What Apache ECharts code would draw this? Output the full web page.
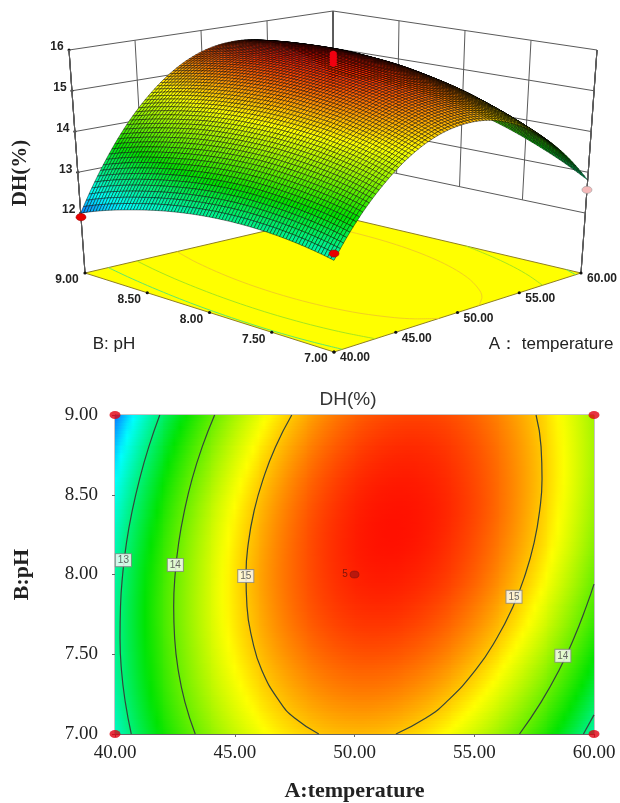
<!DOCTYPE html>
<html><head><meta charset="utf-8">
<style>html,body{margin:0;padding:0;background:#fff}#c{width:620px;height:803px}</style>
<script src="https://cdn.jsdelivr.net/npm/echarts@6/dist/echarts.min.js"></script>
</head><body><div id="c"></div>
<script>
// ---------- values ----------
const tempLevels = [40,42,44,46,48,50,52,54,56,58,60];
const phLevels = [7,7.2,7.4,7.6,7.8,8,8.2,8.4,8.6,8.8,9];
const dhTable = [
 [12.69,13.54,14.19,14.67,14.96,15.06,14.98,14.71,14.26,13.63,12.81],
 [12.80,13.67,14.35,14.84,15.15,15.28,15.22,14.97,14.54,13.93,13.13],
 [12.87,13.75,14.46,14.97,15.30,15.45,15.41,15.19,14.78,14.19,13.41],
 [12.90,13.80,14.53,15.07,15.42,15.59,15.57,15.37,14.99,14.42,13.66],
 [12.89,13.82,14.56,15.12,15.50,15.69,15.69,15.51,15.15,14.60,13.87],
 [12.84,13.79,14.55,15.14,15.53,15.75,15.77,15.62,15.28,14.75,14.04],
 [12.75,13.72,14.51,15.11,15.53,15.77,15.82,15.68,15.36,14.86,14.17],
 [12.62,13.61,14.43,15.05,15.49,15.75,15.82,15.71,15.41,14.92,14.26],
 [12.45,13.47,14.30,14.95,15.41,15.69,15.78,15.69,15.41,14.95,14.31],
 [12.25,13.29,14.14,14.81,15.29,15.59,15.71,15.64,15.38,14.94,14.32],
 [12.00,13.06,13.94,14.63,15.14,15.46,15.59,15.55,15.31,14.90,14.29]
];
const tempTicks = [40,45,50,55,60];
const phTicks = [7,7.5,8,8.5,9];
const dhTicks = [12,13,14,15,16];
const contour13Left = [[41.87,9],[41.41,8.8],[41.03,8.6],[40.72,8.4],[40.48,8.2],[40.32,8],[40.23,7.8],[40.21,7.6],[40.27,7.4],[40.43,7.2],[40.68,7]];
const contour13Right = [[60,7.12],[59.56,7]];
const contour14Left = [[44.16,9],[43.64,8.8],[43.22,8.6],[42.90,8.4],[42.66,8.2],[42.51,8],[42.45,7.8],[42.49,7.6],[42.64,7.4],[42.92,7.2],[43.35,7]];
const contour14Right = [[60,7.94],[59.68,7.8],[59.16,7.6],[58.54,7.4],[57.79,7.2],[56.89,7]];
const contour15 = [[47.38,9],[46.70,8.8],[46.19,8.6],[45.81,8.4],[45.57,8.2],[45.47,8],[45.51,7.8],[45.72,7.6],[46.13,7.4],[46.89,7.2],[47.5,7.1],[48.51,7]];
const contour15Right = [[57.58,9],[57.79,8.8],[57.83,8.6],[57.73,8.4],[57.50,8.2],[57.13,8],[56.62,7.8],[55.94,7.6],[55.05,7.4],[53.83,7.2],[52.98,7.1],[51.73,7]];
const contourLabels = [[40.35,8.09,'13'],[42.52,8.06,'14'],[45.46,7.99,'15'],[56.66,7.86,'15'],[58.7,7.49,'14']];
const designTemp = [60,40,40,60];
const designPh = [9,9,7,7];
const designDH = [14.3,11.9,12.85,12.57];
const centerDH = [15.85,15.92,15.98,16.04,16.1];

// ---------- scene geometry ----------
const floorF=[334,352], floorL=[85,273], floorB=[334,215], floorR=[581,273];
const topF=[334,120], topL=[69,50], topB=[333,11], topR=[597,50];
const zFloor=10.53, zTop=16;
const colorStops=[[12,[8,120,255]],[12.45,[0,255,255]],[13.5,[0,228,0]],[14.75,[255,255,0]],[15.9,[255,0,0]]];
const serif='"Liberation Serif"', sans='"Liberation Sans"';

function bil(c0,c1,c2,c3,u,v,k){return (1-u)*(1-v)*c0[k]+u*(1-v)*c1[k]+(1-u)*v*c2[k]+u*v*c3[k];}
function project(A,B,z){
  const u=(A-40)/20,v=(B-7)/2,t=(z-zFloor)/(zTop-zFloor);
  return [0,1].map(k=>{
    const f=bil(floorF,floorR,floorL,floorB,u,v,k), p=bil(topF,topR,topL,topB,u,v,k);
    return f+(p-f)*t;
  });
}
function spline(vals,x){
  const n=vals.length;
  const i=Math.max(0,Math.min(n-2,Math.floor(x))), t=x-i;
  const g=k=>k<0?3*vals[0]-3*vals[1]+vals[2]:k>=n?3*vals[n-1]-3*vals[n-2]+vals[n-3]:vals[k];
  const p0=g(i-1),p1=g(i),p2=g(i+1),p3=g(i+2);
  return .5*(2*p1+(p2-p0)*t+(2*p0-5*p1+4*p2-p3)*t*t+(3*p1-p0-3*p2+p3)*t*t*t);
}
function dhAt(A,B){
  const x=(A-40)/2,y=(B-7)/.2;
  return spline(dhTable.map(r=>spline(r,x)),y);
}
function dhColor(z){
  const s=colorStops;
  if(z<=s[0][0])return 'rgb('+s[0][1]+')';
  for(let i=1;i<s.length;i++){
    if(z<=s[i][0]){
      const t=(z-s[i-1][0])/(s[i][0]-s[i-1][0]);
      return 'rgb('+s[i][1].map((c,k)=>Math.round(s[i-1][1][k]+(c-s[i-1][1][k])*t)).join(',')+')';
    }
  }
  return 'rgb('+s[s.length-1][1]+')';
}
// cells: lower-left node of every table cell, ordered back to front
const cellData=[];
for(let j=phLevels.length-2;j>=0;j--)for(let i=tempLevels.length-2;i>=0;i--)
  cellData.push([tempLevels[i],phLevels[j],dhTable[j][i]]);

const wallStroke={stroke:'#5a5a5a',lineWidth:1,fill:null};
function seg(a,b,style){return {type:'line',shape:{x1:a[0],y1:a[1],x2:b[0],y2:b[1]},style:style};}
function txt(x,y,s,font,extra){return Object.assign({type:'text',x:x,y:y,style:{text:s,font:font,fill:'#222',textAlign:'center',textVerticalAlign:'middle'}},extra||{});}
function dot(p,r,fill){return {type:'circle',shape:{cx:p[0],cy:p[1],r:r},style:{fill:fill}};}
const tickFont='bold 12px '+sans;

function sceneSeries(name,data,render,z){
  return {type:'custom',name:name,coordinateSystem:'none',data:data,silent:true,animation:false,z:z,renderItem:render};
}
function polyStyle(col,w){return {stroke:col,lineWidth:w,fill:null,lineJoin:'round'};}
function floorLine(pts,col){
  return {type:'polyline',shape:{points:pts.map(p=>project(p[0],p[1],zFloor)),smooth:0.3},style:polyStyle(col,1)};
}

const series=[
 sceneSeries('dhGrid',dhTicks,(p,api)=>{
   const z=api.value(0);
   const a=project(40,9,z),b=project(60,9,z),c=project(60,7,z);
   return {type:'group',children:[seg(a,b,wallStroke),seg(b,c,wallStroke),
     dot(a,1.5,'#111'),
     txt(a[0]-12,a[1]-3,String(z),'bold 12px '+sans)]};
 },2),
 sceneSeries('tempGrid',tempTicks,(p,api)=>{
   const A=api.value(0);
   const tick=project(A,7,zFloor);
   return {type:'group',children:[seg(project(A,9,12),project(A,9,16),wallStroke),
     seg(project(60,9,12),project(60,9,16),wallStroke),
     txt(tick[0]+21,tick[1]+6,A.toFixed(2),tickFont)]};
 },2),
 sceneSeries('phGrid',phTicks,(p,api)=>{
   const B=api.value(0);
   const tick=project(40,B,zFloor);
   return {type:'group',children:[seg(project(60,B,12),project(60,B,16),wallStroke),
     seg(project(40,9,zFloor),project(40,9,16),wallStroke),
     seg(project(60,7,zFloor),project(60,7,16),wallStroke),
     txt(tick[0]-18,tick[1]+7,B.toFixed(2),tickFont)]};
 },2),
 sceneSeries('floor',[0],()=>({type:'group',children:[
   {type:'polygon',shape:{points:[project(40,7,zFloor),project(60,7,zFloor),project(60,9,zFloor),project(40,9,zFloor)]},
    style:{fill:'#ffff00',stroke:'#8f7f22',lineWidth:1}},
   floorLine(contour13Left,'#5fe86a'),floorLine(contour13Right,'#5fe86a'),
   floorLine(contour14Left,'#a6e61e'),floorLine(contour14Right,'#a6e61e'),
   floorLine(contour15,'#f2cf22'),floorLine(contour15Right,'#f2cf22')
 ]}),3),
 sceneSeries('floorTicks',tempTicks,(p,api)=>{
   const i=(api.value(0)-40)/5;
   return {type:'group',children:[dot(project(api.value(0),7,zFloor),1.6,'#111'),
     dot(project(40,phTicks[i],zFloor),1.6,'#111')]};
 },3),
 sceneSeries('designBack',[0],()=>({type:'ellipse',shape:{cx:project(designTemp[0],designPh[0],designDH[0])[0],cy:project(designTemp[0],designPh[0],designDH[0])[1],rx:5,ry:3.5},style:{fill:'#f00'}}),4),
 sceneSeries('surface',cellData,(p,api)=>{
   const A0=api.value(0),B0=api.value(1),n=8,children=[];
   for(let j=n-1;j>=0;j--)for(let i=n-1;i>=0;i--){
     const a0=A0+2*i/n,a1=A0+2*(i+1)/n,b0=B0+.2*j/n,b1=B0+.2*(j+1)/n;
     const pts=[[a0,b0],[a1,b0],[a1,b1],[a0,b1]].map(q=>project(q[0],q[1],dhAt(q[0],q[1])));
     children.push({type:'polygon',shape:{points:pts},
       style:{fill:dhColor(dhAt((a0+a1)/2,(b0+b1)/2)),stroke:'#000',lineWidth:.45}});
   }
   return {type:'group',children:children};
 },5),
 sceneSeries('centerPoints',centerDH,(p,api)=>{
   const q=project(50,8,api.value(0));
   return {type:'ellipse',shape:{cx:q[0],cy:q[1],rx:3.6,ry:3},style:{fill:'#f00010'}};
 },6),
 sceneSeries('designPoints',[1,2,3],(p,api)=>{
   const i=api.value(0),q=project(designTemp[i],designPh[i],designDH[i]);
   return {type:'ellipse',shape:{cx:q[0],cy:q[1],rx:5,ry:3.6},
     style:i===3?{fill:'#f5b9b9',stroke:'#999',lineWidth:.6}:{fill:'#e80000',stroke:'#900',lineWidth:.5}};
 },6),
 sceneSeries('names3d',[0],()=>({type:'group',children:[
   txt(114,344,'B: pH','17px '+sans),
   txt(551,344,'A\uFF1A temperature','17px '+sans),
   txt(21,173,'DH(%)','bold 21px '+serif,{rotation:Math.PI/2})
 ]}),6),
 {type:'custom',name:'field',coordinateSystem:'cartesian2d',xAxisIndex:0,yAxisIndex:0,animation:false,silent:true,z:2,
  data:cellData,encode:{x:0,y:1},
  renderItem:(p,api)=>{
    const A0=api.value(0),B0=api.value(1),rows=12,stops=8,children=[];
    for(let j=0;j<rows;j++){
      const b0=B0+.2*j/rows,b1=B0+.2*(j+1)/rows,bm=(b0+b1)/2;
      const pa=api.coord([A0,b1]),pb=api.coord([A0+2,b0]);
      const colorList=[];
      for(let s=0;s<=stops;s++)colorList.push({offset:s/stops,color:dhColor(dhAt(A0+2*s/stops,bm))});
      const x=Math.floor(pa[0]),y=Math.floor(pa[1]);
      children.push({type:'rect',shape:{x:x,y:y,width:Math.ceil(pb[0])-x,height:Math.ceil(pb[1])-y},
        style:{fill:{type:'linear',x:0,y:0,x2:1,y2:0,colorStops:colorList}}});
    }
    return {type:'group',children:children};
  }},
];
function contourSeries(name,pts){
  return {type:'line',name:name,data:pts,xAxisIndex:0,yAxisIndex:0,smooth:true,showSymbol:false,symbol:'none',silent:true,animation:false,z:3,
    lineStyle:{color:'#34453a',width:1.2},clip:true};
}
series.push(contourSeries('c13L',contour13Left),contourSeries('c13R',contour13Right),
  contourSeries('c14L',contour14Left),contourSeries('c14R',contour14Right),
  contourSeries('c15L',contour15),contourSeries('c15R',contour15Right));
series.push({type:'scatter',name:'contourLabels',data:contourLabels,xAxisIndex:0,yAxisIndex:0,symbolSize:0,silent:true,animation:false,z:4,
  encode:{x:0,y:1},
  label:{show:true,position:'inside',formatter:p=>p.value[2],fontFamily:'Liberation Sans',fontSize:10,color:'#444',backgroundColor:'#fff',borderColor:'#8a8a8a',borderWidth:1,padding:[1,2]}});
series.push({type:'scatter',name:'designCorners',data:designTemp.map((a,i)=>[a,designPh[i]]),xAxisIndex:0,yAxisIndex:0,symbol:'circle',symbolSize:[11,8],clip:false,silent:true,animation:false,z:5,
  itemStyle:{color:'#e00010'}});
series.push({type:'scatter',name:'designCentre',data:[[50,8]],xAxisIndex:0,yAxisIndex:0,symbol:'circle',symbolSize:[9,7],silent:true,animation:false,z:5,
  itemStyle:{color:'#a81510',borderColor:'#5a1010',borderWidth:.5},
  label:{show:true,position:'left',distance:2,formatter:'5',fontFamily:'Liberation Sans',fontSize:10,color:'#5a1010'}});

const chart=echarts.init(document.getElementById('c'),null,{renderer:'canvas'});
chart.setOption({
  animation:false,
  backgroundColor:'#fff',
  title:{text:'DH(%)',left:343,top:385,textAlign:'center',textStyle:{fontFamily:'Liberation Sans',fontSize:19,fontWeight:'normal',color:'#333'}},
  grid:{left:115,top:415,width:479,height:320,show:true,borderColor:'#8a8a8a',borderWidth:1,backgroundColor:'transparent'},
  xAxis:{type:'value',min:40,max:60,interval:5,name:'A:temperature',nameLocation:'middle',nameGap:46,
    nameTextStyle:{fontFamily:'Liberation Serif',fontWeight:'bold',fontSize:22,color:'#222'},
    axisLine:{lineStyle:{color:'#666'}},axisTick:{length:3,lineStyle:{color:'#666'}},splitLine:{show:false},
    axisLabel:{formatter:v=>v.toFixed(2),fontFamily:'Liberation Serif',fontSize:19,color:'#222',margin:10,hideOverlap:false,showMinLabel:true,showMaxLabel:true}},
  yAxis:{type:'value',min:7,max:9,interval:.5,name:'B:pH',nameLocation:'middle',nameGap:82,
    nameTextStyle:{fontFamily:'Liberation Serif',fontWeight:'bold',fontSize:22,color:'#222'},
    axisLine:{lineStyle:{color:'#666'}},axisTick:{length:3,lineStyle:{color:'#666'}},splitLine:{show:false},
    axisLabel:{formatter:v=>v.toFixed(2),fontFamily:'Liberation Serif',fontSize:19,color:'#222',margin:17,padding:[5,0,0,0],showMinLabel:true,showMaxLabel:true}},
  series:series
});
</script></body></html>
